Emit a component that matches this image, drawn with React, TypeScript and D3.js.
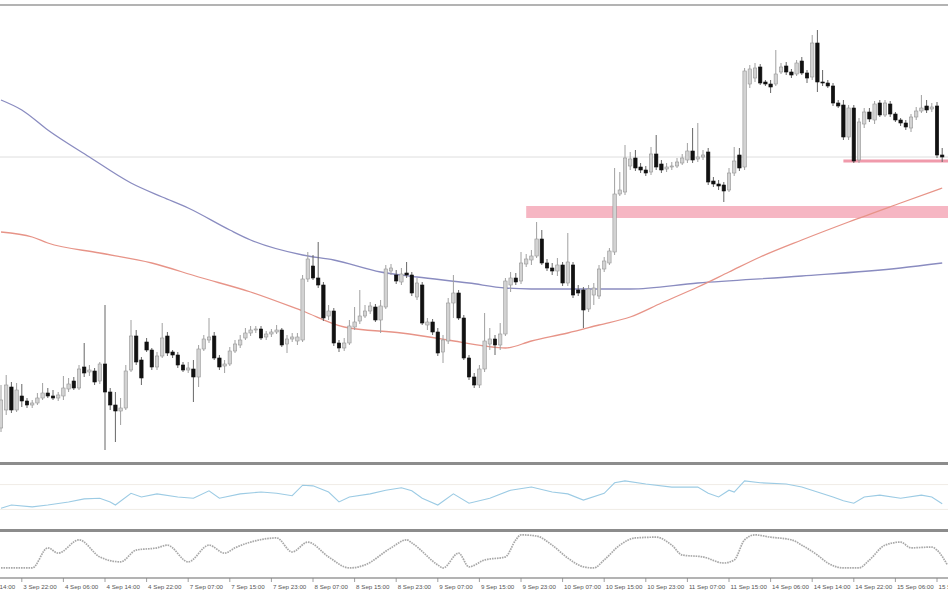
import React from "react";
import * as d3 from "d3";

// OHLC candles: [open, high, low, close]
const candles: [number, number, number, number][] = [
  [1.1572, 1.1615, 1.1568, 1.1600], [1.1590, 1.1625, 1.1585, 1.1615], [1.1613, 1.1618, 1.1587, 1.1590], [1.1590, 1.1617, 1.1588, 1.1610],
  [1.1604, 1.1616, 1.1593, 1.1599], [1.1599, 1.1602, 1.1592, 1.1595], [1.1595, 1.1600, 1.1592, 1.1597], [1.1597, 1.1607, 1.1595, 1.1602],
  [1.1602, 1.1617, 1.1600, 1.1607], [1.1607, 1.1612, 1.1602, 1.1604], [1.1604, 1.1610, 1.1600, 1.1602], [1.1602, 1.1608, 1.1599, 1.1605],
  [1.1604, 1.1624, 1.1600, 1.1612], [1.1611, 1.1622, 1.1608, 1.1616], [1.1619, 1.1623, 1.1610, 1.1612], [1.1612, 1.1635, 1.1610, 1.1631],
  [1.1633, 1.1657, 1.1623, 1.1627], [1.1628, 1.1635, 1.1624, 1.1630], [1.1629, 1.1632, 1.1615, 1.1618], [1.1619, 1.1638, 1.1616, 1.1636],
  [1.1636, 1.1695, 1.1550, 1.1608], [1.1608, 1.1612, 1.1590, 1.1595], [1.1595, 1.1608, 1.1558, 1.1589], [1.1589, 1.1602, 1.1575, 1.1592],
  [1.1592, 1.1635, 1.1590, 1.1629], [1.1630, 1.1680, 1.1628, 1.1664], [1.1664, 1.1670, 1.1635, 1.1638], [1.1640, 1.1643, 1.1615, 1.1622],
  [1.1658, 1.1662, 1.1648, 1.1650], [1.1650, 1.1652, 1.1630, 1.1633], [1.1633, 1.1648, 1.1630, 1.1644], [1.1644, 1.1677, 1.1642, 1.1662],
  [1.1664, 1.1668, 1.1644, 1.1647], [1.1648, 1.1650, 1.1642, 1.1645], [1.1645, 1.1648, 1.1632, 1.1635], [1.1635, 1.1638, 1.1628, 1.1630],
  [1.1630, 1.1638, 1.1627, 1.1632], [1.1631, 1.1640, 1.1598, 1.1623], [1.1623, 1.1655, 1.1613, 1.1651], [1.1651, 1.1665, 1.1649, 1.1661],
  [1.1660, 1.1682, 1.1657, 1.1663], [1.1664, 1.1668, 1.1640, 1.1642], [1.1642, 1.1645, 1.1630, 1.1633], [1.1634, 1.1640, 1.1627, 1.1636],
  [1.1636, 1.1653, 1.1634, 1.1649], [1.1649, 1.1660, 1.1647, 1.1656], [1.1655, 1.1665, 1.1652, 1.1660], [1.1662, 1.1672, 1.1660, 1.1667],
  [1.1667, 1.1674, 1.1664, 1.1670], [1.1670, 1.1674, 1.1667, 1.1671], [1.1671, 1.1674, 1.1660, 1.1662], [1.1663, 1.1669, 1.1660, 1.1666],
  [1.1666, 1.1671, 1.1663, 1.1668], [1.1668, 1.1675, 1.1666, 1.1670], [1.1670, 1.1672, 1.1653, 1.1655], [1.1656, 1.1665, 1.1647, 1.1661],
  [1.1661, 1.1667, 1.1658, 1.1663], [1.1659, 1.1667, 1.1655, 1.1663], [1.1660, 1.1725, 1.1658, 1.1721], [1.1721, 1.1748, 1.1718, 1.1741],
  [1.1734, 1.1745, 1.1720, 1.1722], [1.1722, 1.1758, 1.1712, 1.1715], [1.1715, 1.1718, 1.1679, 1.1682], [1.1684, 1.1695, 1.1680, 1.1689],
  [1.1689, 1.1692, 1.1654, 1.1657], [1.1657, 1.1660, 1.1648, 1.1652], [1.1652, 1.1662, 1.1649, 1.1657], [1.1657, 1.1680, 1.1655, 1.1674],
  [1.1673, 1.1693, 1.1670, 1.1678], [1.1679, 1.1710, 1.1676, 1.1684], [1.1684, 1.1695, 1.1682, 1.1689], [1.1689, 1.1698, 1.1686, 1.1694],
  [1.1693, 1.1696, 1.1678, 1.1680], [1.1680, 1.1700, 1.1667, 1.1694], [1.1693, 1.1735, 1.1691, 1.1731], [1.1729, 1.1736, 1.1725, 1.1732],
  [1.1725, 1.1730, 1.1716, 1.1719], [1.1718, 1.1732, 1.1715, 1.1726], [1.1727, 1.1738, 1.1722, 1.1725], [1.1725, 1.1728, 1.1704, 1.1707],
  [1.1703, 1.1722, 1.1700, 1.1717], [1.1715, 1.1718, 1.1675, 1.1677], [1.1675, 1.1682, 1.1670, 1.1678], [1.1678, 1.1681, 1.1665, 1.1668],
  [1.1668, 1.1672, 1.1644, 1.1647], [1.1648, 1.1665, 1.1637, 1.1660], [1.1659, 1.1702, 1.1656, 1.1697], [1.1697, 1.1725, 1.1682, 1.1707],
  [1.1707, 1.1710, 1.1680, 1.1682], [1.1682, 1.1685, 1.1640, 1.1642], [1.1642, 1.1645, 1.1620, 1.1623], [1.1623, 1.1627, 1.1612, 1.1615],
  [1.1615, 1.1635, 1.1612, 1.1631], [1.1631, 1.1687, 1.1628, 1.1659], [1.1656, 1.1672, 1.1650, 1.1661], [1.1661, 1.1665, 1.1645, 1.1655],
  [1.1655, 1.1677, 1.1650, 1.1666], [1.1666, 1.1722, 1.1664, 1.1719], [1.1715, 1.1728, 1.1708, 1.1722], [1.1722, 1.1727, 1.1715, 1.1718],
  [1.1719, 1.1748, 1.1716, 1.1737], [1.1736, 1.1746, 1.1733, 1.1741], [1.1740, 1.1750, 1.1735, 1.1744], [1.1744, 1.1778, 1.1742, 1.1761],
  [1.1761, 1.1770, 1.1735, 1.1737], [1.1737, 1.1741, 1.1729, 1.1732], [1.1732, 1.1737, 1.1725, 1.1729], [1.1729, 1.1742, 1.1724, 1.1735],
  [1.1735, 1.1738, 1.1714, 1.1717], [1.1717, 1.1767, 1.1714, 1.1738], [1.1735, 1.1738, 1.1702, 1.1705], [1.1710, 1.1715, 1.1704, 1.1707],
  [1.1710, 1.1713, 1.1672, 1.1690], [1.1691, 1.1715, 1.1688, 1.1711], [1.1705, 1.1717, 1.1695, 1.1712], [1.1704, 1.1735, 1.1701, 1.1731],
  [1.1731, 1.1743, 1.1728, 1.1739], [1.1737, 1.1752, 1.1735, 1.1749], [1.1748, 1.1832, 1.1745, 1.1806], [1.1806, 1.1828, 1.1804, 1.1810],
  [1.1808, 1.1855, 1.1805, 1.1842], [1.1834, 1.1848, 1.1830, 1.1841], [1.1842, 1.1850, 1.1829, 1.1832], [1.1833, 1.1837, 1.1827, 1.1830],
  [1.1830, 1.1834, 1.1824, 1.1827], [1.1828, 1.1853, 1.1825, 1.1846], [1.1846, 1.1865, 1.1830, 1.1833], [1.1836, 1.1840, 1.1827, 1.1830],
  [1.1831, 1.1837, 1.1828, 1.1833], [1.1833, 1.1838, 1.1830, 1.1834], [1.1834, 1.1842, 1.1832, 1.1838], [1.1837, 1.1846, 1.1835, 1.1842],
  [1.1840, 1.1857, 1.1837, 1.1849], [1.1849, 1.1872, 1.1837, 1.1840], [1.1841, 1.1877, 1.1838, 1.1843], [1.1843, 1.1850, 1.1840, 1.1845],
  [1.1848, 1.1852, 1.1815, 1.1818], [1.1819, 1.1823, 1.1813, 1.1816], [1.1816, 1.1820, 1.1810, 1.1814], [1.1815, 1.1818, 1.1798, 1.1809],
  [1.1810, 1.1832, 1.1808, 1.1827], [1.1827, 1.1853, 1.1824, 1.1839], [1.1845, 1.1852, 1.1829, 1.1832], [1.1833, 1.1932, 1.1830, 1.1929],
  [1.1916, 1.1935, 1.1912, 1.1931], [1.1922, 1.1937, 1.1918, 1.1932], [1.1933, 1.1936, 1.1915, 1.1917], [1.1918, 1.1920, 1.1914, 1.1916],
  [1.1916, 1.1920, 1.1907, 1.1913], [1.1916, 1.1950, 1.1914, 1.1926], [1.1928, 1.1937, 1.1926, 1.1933], [1.1934, 1.1938, 1.1925, 1.1928],
  [1.1928, 1.1931, 1.1922, 1.1925], [1.1926, 1.1940, 1.1924, 1.1937], [1.1939, 1.1943, 1.1925, 1.1927], [1.1927, 1.1930, 1.1917, 1.1922],
  [1.1923, 1.1965, 1.1920, 1.1957], [1.1957, 1.1970, 1.1908, 1.1918], [1.1918, 1.1930, 1.1914, 1.1917], [1.1917, 1.1920, 1.1912, 1.1914],
  [1.1914, 1.1917, 1.1894, 1.1897], [1.1897, 1.1900, 1.1892, 1.1894], [1.1895, 1.1900, 1.1860, 1.1863], [1.1863, 1.1895, 1.1860, 1.1892],
  [1.1892, 1.1895, 1.1837, 1.1839], [1.1840, 1.1882, 1.1837, 1.1878], [1.1876, 1.1892, 1.1872, 1.1888], [1.1888, 1.1892, 1.1878, 1.1881],
  [1.1880, 1.1899, 1.1876, 1.1896], [1.1897, 1.1900, 1.1883, 1.1885], [1.1885, 1.1900, 1.1883, 1.1897], [1.1896, 1.1899, 1.1883, 1.1886],
  [1.1886, 1.1888, 1.1878, 1.1880], [1.1880, 1.1882, 1.1874, 1.1877], [1.1877, 1.1880, 1.1870, 1.1873], [1.1872, 1.1886, 1.1868, 1.1883],
  [1.1883, 1.1893, 1.1880, 1.1889], [1.1889, 1.1905, 1.1887, 1.1892], [1.1894, 1.1900, 1.1887, 1.1890], [1.1891, 1.1897, 1.1888, 1.1893],
  [1.1894, 1.1898, 1.1842, 1.1845], [1.1845, 1.1852, 1.1838, 1.1843],
];

// Moving averages sampled at bar index: [barIndex, price]
const maBlue: [number, number][] = [
  [0, 1.1900], [4, 1.1890], [9, 1.1870], [17, 1.1843], [25, 1.1817], [31, 1.1803], [36, 1.1792], [44, 1.1770],
  [48, 1.1760], [58, 1.1745], [64, 1.1740], [73, 1.1728], [80, 1.1723], [90, 1.1717], [97, 1.1712], [102, 1.1711],
  [109, 1.1711], [121, 1.1711], [134, 1.1717], [154, 1.1724], [173, 1.1732], [181, 1.1737],
];
const maRed: [number, number][] = [
  [0, 1.1768], [6, 1.1763], [9, 1.1757], [19, 1.1747], [29, 1.1737], [38, 1.1723], [48, 1.1708], [58, 1.1689],
  [66, 1.1673], [77, 1.1667], [86, 1.1660], [93, 1.1654], [97, 1.1652], [102, 1.1659], [109, 1.1667], [115, 1.1675],
  [121, 1.1683], [127, 1.1697], [134, 1.1713], [140, 1.1728], [146, 1.1743], [154, 1.1760], [163, 1.1778], [173, 1.1797],
  [181, 1.1812],
];

// Horizontal levels
const zoneBand = { fromBar: 101, low: 1.1782, high: 1.1794 };
const supportLine = { fromBar: 162, price: 1.1839 };
const refLine = 1.1843;

// RSI sampled at bar index: [barIndex, value]
const rsi: [number, number][] = [
  [0, 32], [2, 37], [6, 34], [9, 37], [13, 42], [16, 47], [19, 48], [21, 42], [22, 37], [25, 56], [27, 50], [30, 55],
  [34, 50], [37, 48], [40, 60], [42, 48], [46, 55], [50, 58], [53, 56], [56, 52], [58, 69], [60, 68], [63, 58], [65, 42],
  [67, 50], [71, 55], [74, 61], [77, 65], [79, 60], [81, 48], [84, 37], [87, 55], [90, 40], [94, 48], [98, 61], [102, 66],
  [106, 58], [109, 55], [112, 45], [116, 56], [118, 73], [120, 76], [124, 71], [129, 66], [134, 66], [136, 56], [138, 50],
  [140, 61], [141, 58], [143, 76], [146, 73], [151, 71], [154, 66], [157, 58], [160, 50], [162, 44], [164, 40], [166, 50],
  [169, 53], [173, 48], [177, 53], [179, 50], [181, 39],
];
const rsiLevels = [70, 30];

// Stochastic main line sampled at bar index: [barIndex, value]
const stoch: [number, number][] = [
  [0, 8], [6, 8], [9, 61], [11, 47], [15, 82], [19, 37], [23, 24], [26, 55], [30, 61], [32, 68], [36, 24], [40, 68],
  [43, 47], [45, 61], [48, 76], [53, 87], [56, 50], [59, 76], [63, 37], [67, 8], [70, 16], [75, 61], [78, 82], [79, 74],
  [84, 16], [85, 8], [88, 47], [90, 11], [93, 29], [97, 37], [99, 82], [100, 95], [103, 92], [106, 68], [109, 34],
  [112, 11], [114, 8], [116, 29], [119, 68], [122, 87], [126, 89], [129, 68], [131, 42], [135, 37], [139, 21], [141, 29],
  [143, 82], [145, 95], [148, 89], [152, 82], [154, 68], [157, 42], [159, 21], [162, 8], [165, 8], [167, 29], [170, 68],
  [173, 76], [175, 61], [179, 63], [180, 55], [182, 16],
];

// X axis labels, one every 8 bars starting at bar -4
const tickLabels = [
  "3 Sep 14:00", "3 Sep 22:00", "4 Sep 06:00", "4 Sep 14:00", "4 Sep 22:00", "7 Sep 07:00", "7 Sep 15:00", "7 Sep 23:00",
  "8 Sep 07:00", "8 Sep 15:00", "8 Sep 23:00", "9 Sep 07:00", "9 Sep 15:00", "9 Sep 23:00", "10 Sep 07:00", "10 Sep 15:00",
  "10 Sep 23:00", "11 Sep 07:00", "11 Sep 15:00", "14 Sep 06:00", "14 Sep 14:00", "14 Sep 22:00", "15 Sep 06:00", "15 Sep 14:00",
];
const firstTickBar = -4;
const barsPerTick = 8;

const W = 948;
const H = 593;

export default function App() {
  const x = d3.scaleLinear().domain([0, 181]).range([1, 1 + 5.2 * 181]);
  const yMain = d3.scaleLinear().domain([1.1537, 1.1995]).range([463, 5]);
  const yRsi = d3.scaleLinear().domain([0, 100]).range([528, 466]);
  const ySto = d3.scaleLinear().domain([0, 100]).range([571, 533]);

  const maLine = d3
    .line<[number, number]>()
    .x((d) => x(d[0]))
    .y((d) => yMain(d[1]))
    .curve(d3.curveMonotoneX);
  const rsiLine = d3
    .line<[number, number]>()
    .x((d) => x(d[0]))
    .y((d) => yRsi(d[1]))
    .curve(d3.curveLinear);
  const stoLine = d3
    .line<[number, number]>()
    .x((d) => x(d[0]))
    .y((d) => ySto(d[1]))
    .curve(d3.curveMonotoneX);

  const bodyW = 3.4;

  return (
    <svg
      width={W}
      height={H}
      style={{ position: "absolute", left: 0, top: 0, background: "#fff" }}
      fontFamily="Liberation Sans, Arial, sans-serif"
    >
      <defs>
        <clipPath id="mainClip">
          <rect x={0} y={6} width={W} height={456} />
        </clipPath>
        <clipPath id="rsiClip">
          <rect x={0} y={465} width={W} height={64} />
        </clipPath>
        <clipPath id="stoClip">
          <rect x={0} y={532} width={W} height={45} />
        </clipPath>
      </defs>
      <rect x={0} y={0} width={W} height={H} fill="#fff" />

      {/* main panel */}
      <g clipPath="url(#mainClip)">
        <line x1={0} x2={W} y1={yMain(refLine)} y2={yMain(refLine)} stroke="#dedede" strokeWidth={1} />
        <rect
          x={x(zoneBand.fromBar)}
          y={yMain(zoneBand.high)}
          width={W - x(zoneBand.fromBar)}
          height={yMain(zoneBand.low) - yMain(zoneBand.high)}
          fill="#f6b6c3"
        />
        <line
          x1={x(supportLine.fromBar)}
          x2={W}
          y1={yMain(supportLine.price)}
          y2={yMain(supportLine.price)}
          stroke="#f09aab"
          strokeWidth={3}
        />
        <path d={maLine(maBlue) || ""} fill="none" stroke="#8a8cc0" strokeWidth={1.3} />
        <path d={maLine(maRed) || ""} fill="none" stroke="#e79488" strokeWidth={1.3} />
        {candles.map((c, i) => {
          const [o, h, l, cl] = c;
          const bull = cl >= o;
          const cx = x(i);
          const top = yMain(Math.max(o, cl));
          const bot = yMain(Math.min(o, cl));
          return (
            <g key={i}>
              <line
                x1={cx}
                x2={cx}
                y1={yMain(h)}
                y2={yMain(l)}
                stroke={bull ? "#a0a0a0" : "#666"}
                strokeWidth={1}
              />
              <rect
                x={cx - bodyW / 2}
                y={top}
                width={bodyW}
                height={Math.max(1, bot - top)}
                fill={bull ? "#d2d2d2" : "#111"}
                stroke={bull ? "#969696" : "#111"}
                strokeWidth={0.6}
              />
            </g>
          );
        })}
      </g>

      {/* RSI panel */}
      <g clipPath="url(#rsiClip)">
        {rsiLevels.map((lv) => (
          <line key={lv} x1={0} x2={W} y1={yRsi(lv)} y2={yRsi(lv)} stroke="#f0ece6" strokeWidth={1} />
        ))}
        <path d={rsiLine(rsi) || ""} fill="none" stroke="#9ccbe4" strokeWidth={1.1} />
      </g>

      {/* Stochastic panel */}
      <g clipPath="url(#stoClip)">
        <path d={stoLine(stoch) || ""} fill="none" stroke="#a8a8a8" strokeWidth={1.7} strokeDasharray="1.6,0.9" />
      </g>

      {/* frame lines */}
      <line x1={0} x2={W} y1={5} y2={5} stroke="#b3b3b3" strokeWidth={2} />
      <line x1={0} x2={W} y1={463.5} y2={463.5} stroke="#8c8c8c" strokeWidth={3} />
      <line x1={0} x2={W} y1={530.5} y2={530.5} stroke="#8c8c8c" strokeWidth={3} />
      <line x1={0} x2={W} y1={578} y2={578} stroke="#9a9a9a" strokeWidth={1.5} />

      {/* x axis */}
      {tickLabels.map((t, k) => {
        const tx = x(firstTickBar + k * barsPerTick);
        return (
          <g key={t}>
            <line x1={tx} x2={tx} y1={578} y2={582} stroke="#888" strokeWidth={0.8} />
            <text x={tx + 1.5} y={588.5} fontSize={6.2} fill="#555">
              {t}
            </text>
          </g>
        );
      })}
    </svg>
  );
}
